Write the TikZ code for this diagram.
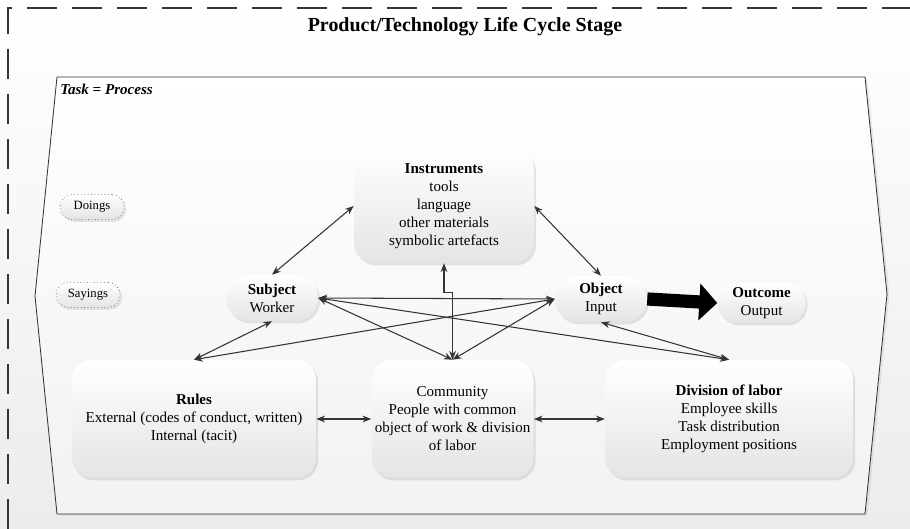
\documentclass[tikz,border=0pt]{standalone}
\usepackage{fontspec}
\setmainfont{Liberation Serif}
\usetikzlibrary{arrows.meta,positioning,shadows}
\definecolor{linea}{RGB}{52,52,52}
\definecolor{fondo}{RGB}{236,236,236}
\definecolor{cajabaja}{RGB}{228,228,228}
\newcommand\textonodo{\fontsize{10.7pt}{12.8pt}\selectfont}

\begin{document}
\begin{tikzpicture}[x=0.25mm,y=-0.25mm,
caja/.style={rounded corners=5mm,top color=white,bottom color=cajabaja,drop shadow={opacity=0.2,shadow xshift=0.5mm,shadow yshift=-0.6mm},align=center,font=\textonodo,inner sep=1pt},
pastilla/.style={caja,rounded corners=5.6mm,minimum width=23mm,minimum height=11.5mm},
etiqueta/.style={caja,draw=linea,dotted,rounded corners=3mm,minimum width=16mm,minimum height=6.2mm,font=\fontsize{9pt}{11pt}\selectfont},
tarea/.style={draw=linea,line width=0.6pt,top color=white,bottom color=fondo!70,drop shadow={opacity=0.15,shadow xshift=0.6mm,shadow yshift=-0.4mm}},
marco/.style={draw=linea,line width=0.5mm,dash pattern=on 7.5mm off 3.75mm},
arr/.style={{Stealth[length=2.2mm,width=1.7mm]}-{Stealth[length=2.2mm,width=1.7mm]},draw=linea,line width=0.75pt},
grande/.style={-{Triangle[length=4.5mm,width=9mm]},line width=3.3mm,draw=black}
]
\useasboundingbox (0,0) rectangle (910,529);
\shade[top color=white,bottom color=fondo] (0,0) rectangle (910,529);
\draw[marco] (8,529) -- (8,8) -- (910,8);

\node[font=\fontsize{14.2pt}{17pt}\selectfont\bfseries] (titulo) at (465,27) {Product/Technology Life Cycle Stage};

% contenedor de la tarea
\draw[tarea] (57,77) -- (865,77) -- (887,294) -- (865,514) -- (57,514) -- (35,296) -- cycle;
\node[anchor=west,font=\textonodo\bfseries\itshape,inner sep=0pt] (tarea) at (60,89) {Task = Process};

\node[etiqueta] (doings) at (92,207) {Doings};
\node[etiqueta] (sayings) at (88,295) {Sayings};

\node[caja,minimum width=45mm,minimum height=28.5mm] (instr) at (444,206) {\textbf{Instruments}\\tools\\language\\other materials\\symbolic artefacts};
\node[pastilla] (subj) at (272,298) {\textbf{Subject}\\Worker};
\node[pastilla] (obj) at (601,299) {\textbf{Object}\\Input};
\node[pastilla,minimum width=22mm,minimum height=10mm,rounded corners=4.9mm,right=17.5mm of obj,yshift=-1mm] (outc) {\textbf{Outcome}\\Output};

\node[caja,minimum width=61mm,minimum height=29.5mm] (rules) at (194,419) {\textbf{Rules}\\External (codes of conduct, written)\\Internal (tacit)};
\node[caja,minimum width=40.5mm,minimum height=29.5mm,right=13.75mm of rules] (comm) {Community\\People with common\\object of work \& division\\of labor};
\node[caja,minimum width=62mm,minimum height=29.5mm,right=17.75mm of comm] (div) {\textbf{Division of labor}\\Employee skills\\Task distribution\\Employment positions};

\foreach \a/\b in {subj.east/obj.west,subj.east/comm.north,subj.east/div.north,obj.west/rules.north,obj.west/comm.north,subj.south/rules.north,obj.south/div.north,subj.north/instr.west,obj.north/instr.east,rules.east/comm.west,comm.east/div.west}
  \draw[arr] (\a) -- (\b);
\draw[arr] (instr.south) -- ++(0,29) -| (comm.north);
\draw[grande] (obj.east) -- (outc.west);
\end{tikzpicture}
\end{document}
